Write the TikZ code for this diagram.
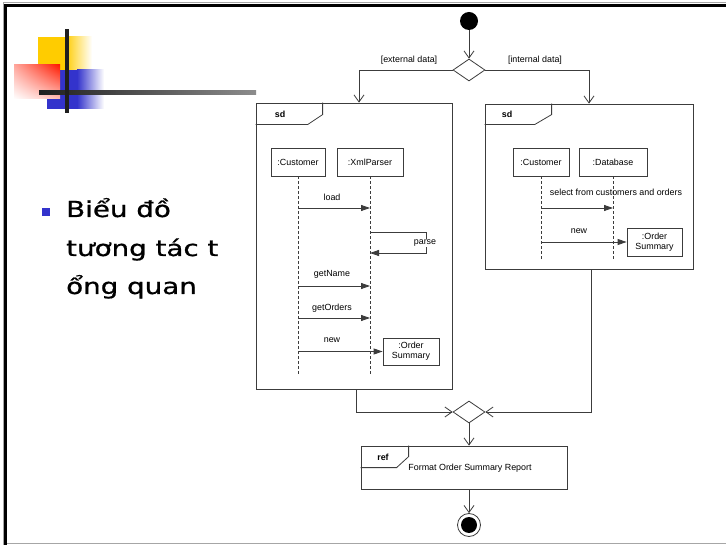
\documentclass[tikz,border=0pt]{standalone}
\usepackage{fontspec}
\setmainfont{Liberation Sans}
\newfontfamily\slidefont[FakeBold=0.7]{DejaVu Sans}
\usetikzlibrary{arrows.meta,shapes.geometric,shadings}
\definecolor{slideyellow}{HTML}{FFCC00}
\definecolor{slideblue}{HTML}{3333CC}
\definecolor{slidered}{HTML}{FF1A00}
\definecolor{lc}{HTML}{3C3C3C}
\begin{document}
\begin{tikzpicture}[x=1pt,y=-1pt,
  dline/.style={draw=lc,line width=0.8pt},
  box/.style={dline,rectangle,inner sep=0pt,font=\fontsize{8.9}{10}\selectfont,align=center},
  frame/.style={dline,rectangle,inner sep=0pt},
  flow/.style={dline,-{Straight Barb[length=7pt,width=10pt]}},
  msg/.style={dline,-{Triangle[length=9pt,width=6pt]}},
  lifeline/.style={dline,dash pattern=on 3pt off 2pt},
  lbl/.style={font=\fontsize{8.9}{10}\selectfont,inner sep=1pt},
  tag/.style={font=\bfseries\fontsize{8.9}{10}\selectfont,inner sep=0pt},
  decision/.style={dline,diamond,aspect=1.45,minimum width=32pt,minimum height=22pt,inner sep=0pt},
  slidetext/.style={anchor=base west,inner sep=0pt,font=\slidefont\fontsize{22}{26}\selectfont}
]
\useasboundingbox (0,0) rectangle (726,545);
\fill[white] (0,0) rectangle (726,545);
% slide border
\draw[black!35,line width=1pt] (3,545) -- (3,3) -- (726,3);
\draw[black!35,line width=0.6pt] (7,543.5) -- (726,543.5);
\draw[black,line width=3pt] (5.5,545) -- (5.5,5.5) -- (726,5.5);

% decoration
\fill[slideyellow] (38,37) rectangle (65.5,70);
\shade[left color=slideyellow,right color=white] (65,37) rectangle (92,70);
\fill[slideblue] (47,70) rectangle (77.5,109);
\shade[left color=slideblue,right color=white] (77,70) rectangle (104,109);
\shade[upper right=slidered,upper left=slidered!38,lower right=slidered!28,lower left=white] (14,65) rectangle (60,99);
\shade[left color=black!88,right color=black!45] (39,91) rectangle (256,95);
\fill[black!88] (65,29) rectangle (68.5,113);

% bullet text
\fill[slideblue] (42,208) rectangle (50,216);
\node[slidetext] (t1) at (66,217) {\scalebox{1.26}[1]{Biểu đồ}};
\node[slidetext] (t2) at (66,256) {\scalebox{1.26}[1]{tương tác t}};
\node[slidetext] (t3) at (66,294) {\scalebox{1.26}[1]{ổng quan}};

% activity flow
\node[circle,fill=black,minimum size=18pt,inner sep=0pt] (start) at (469,21) {};
\node[decision] (dec) at (469,70) {};
\node[lbl] (ext) at (409,60) {[external data]};
\node[lbl] (int) at (535,60) {[internal data]};

% left sd frame
\node[frame,minimum width=196pt,minimum height=286pt] (lf) at (354,246) {};
\draw[dline] (lf.north west) ++(67,0) -- ++(0,12) -- ++(-15,10) -- ++(-52,0);
\node[tag] (sd1) at (280,114) {sd};
\node[box,minimum width=54pt,minimum height=28pt] (c1) at (298,162) {:Customer};
\node[box,minimum width=66pt,minimum height=28pt] (x1) at (370,162) {:XmlParser};
\draw[lifeline] (c1.south) -- ++(0,199);
\draw[lifeline] (x1.south) -- ++(0,199);
\node[box,minimum width=56pt,minimum height=27pt] (ob1) at (411,351.5) {:Order\\Summary};
\node[lbl] (load) at (332,197) {load};
\draw[msg] (c1.south |- 0,208) -- (x1.south |- 0,208);
\draw[msg] (x1.south |- 0,232) -- ++(56,0) -- ++(0,21) -- ++(-56,0);
\node[lbl,fill=white,inner sep=0.5pt] (parse) at (425,243) {parse};
\node[lbl] (gn) at (332,274) {getName};
\draw[msg] (c1.south |- 0,286) -- (x1.south |- 0,286);
\node[lbl] (go) at (332,308) {getOrders};
\draw[msg] (c1.south |- 0,318) -- (x1.south |- 0,318);
\node[lbl] (new1) at (332,340) {new};
\draw[msg] (c1.south |- ob1.west) -- (ob1.west);

% right sd frame
\node[frame,minimum width=208pt,minimum height=165pt] (rf) at (589,186.5) {};
\draw[dline] (rf.north west) ++(67,0) -- ++(0,11) -- ++(-17,10) -- ++(-50,0);
\node[tag] (sd2) at (507,114) {sd};
\node[box,minimum width=56pt,minimum height=28pt] (rc1) at (541,162) {:Customer};
\node[box,minimum width=68pt,minimum height=28pt] (db) at (613,162) {:Database};
\draw[lifeline] (rc1.south) -- ++(0,83);
\draw[lifeline] (db.south) -- ++(0,83);
\node[lbl] (sel) at (616,192) {select from customers and orders};
\draw[msg] (rc1.south |- 0,208) -- (db.south |- 0,208);
\node[box,minimum width=55pt,minimum height=28pt] (ob2) at (654.5,242) {:Order\\Summary};
\node[lbl] (new2) at (579,231) {new};
\draw[msg] (rc1.south |- ob2.west) -- (ob2.west);

% merge and ref
\node[decision] (mg) at (469,412) {};
\node[frame,minimum width=206pt,minimum height=43pt] (ref) at (464,467.5) {};
\draw[dline] (ref.north west) ++(48,0) -- ++(0,11) -- ++(-12,11) -- ++(-36,0);
\node[tag] (reft) at (383,457) {ref};
\node[lbl] (fmt) at (470,468) {Format Order Summary Report};
\node[circle,draw=lc,line width=0.8pt,minimum size=23pt,inner sep=0pt] (end) at (469,525) {};
\node[circle,fill=black,minimum size=16pt,inner sep=0pt] (endin) at (469,525) {};

% flows
\draw[flow] (start) -- (dec);
\draw[flow] (dec.west) -| ([xshift=5pt]lf.north);
\draw[flow] (dec.east) -| (rf.north);
\draw[flow] ([xshift=2pt]lf.south) |- (mg.west);
\draw[flow] ([xshift=2pt]rf.south) |- (mg.east);
\draw[flow] (mg.south) -- (mg.south |- ref.north);
\draw[flow] (mg.south |- ref.south) -- (end);
\end{tikzpicture}
\end{document}
